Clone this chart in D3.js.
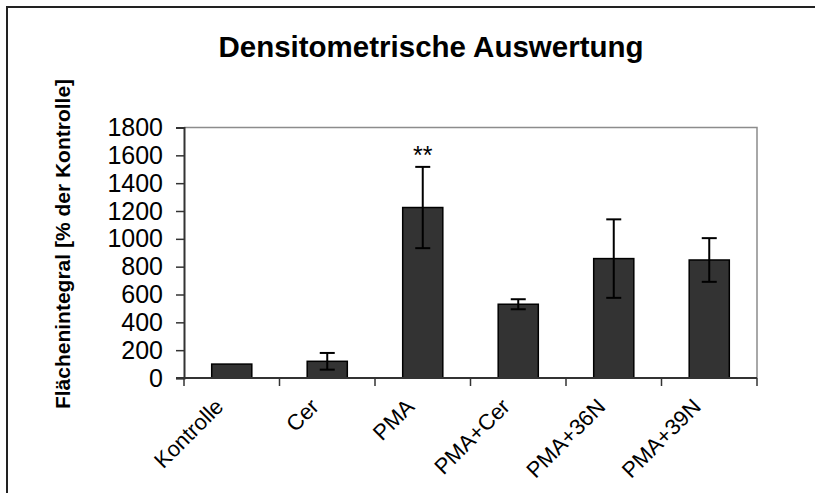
<!DOCTYPE html>
<html><head><meta charset="utf-8">
<script src="https://cdn.jsdelivr.net/npm/d3@7"></script>
<style>html,body{margin:0;padding:0;background:#fff;}svg{display:block;font-family:"Liberation Sans",Arial,sans-serif;}</style>
</head><body>
<svg id="chart" width="815" height="493"></svg>
<script>
const categories = ["Kontrolle", "Cer", "PMA", "PMA+Cer", "PMA+36N", "PMA+39N"];
const means = [100, 120, 1225, 530, 858, 848];
const errors = [0, 60, 292, 36, 282, 157];
const yTicks = [0, 200, 400, 600, 800, 1000, 1200, 1400, 1600, 1800];
const significance = ["", "", "**", "", "", ""];
const titleText = "Densitometrische Auswertung";
const yTitle = "Flächenintegral [% der Kontrolle]";

const svg = d3.select("#chart");
const L = 184, R = 757, T = 127.5, B = 378;

// outer frame (clipped at right/bottom)
svg.append("rect").attr("x", 7).attr("y", 7).attr("width", 900).attr("height", 600)
  .attr("fill", "none").attr("stroke", "#222").attr("stroke-width", 2);

const x = d3.scaleBand().domain(categories).range([L, R]).paddingInner(0.58).paddingOuter(0.29);
const y = d3.scaleLinear().domain([0, 1800]).range([B, T]);

// plot border top & right (gray)
svg.append("path").attr("d", `M${L},${T}H${R}V${B}`).attr("fill", "none")
  .attr("stroke", "#8c8c8c").attr("stroke-width", 1.5);

// bars
svg.append("g").selectAll("rect").data(categories).join("rect")
  .attr("x", d => x(d)).attr("width", x.bandwidth())
  .attr("y", (d, i) => y(means[i])).attr("height", (d, i) => y(0) - y(means[i]))
  .attr("fill", "#333333").attr("stroke", "#000").attr("stroke-width", 1.5);

// error bars
const eg = svg.append("g").attr("stroke", "#000").attr("stroke-width", 2);
categories.forEach((c, i) => {
  if (!errors[i]) return;
  const cx = x(c) + x.bandwidth() / 2;
  const y1 = y(means[i] + errors[i]), y2 = y(means[i] - errors[i]);
  eg.append("line").attr("x1", cx).attr("x2", cx).attr("y1", y1).attr("y2", y2);
  eg.append("line").attr("x1", cx - 7.5).attr("x2", cx + 7.5).attr("y1", y1).attr("y2", y1);
  eg.append("line").attr("x1", cx - 7.5).attr("x2", cx + 7.5).attr("y1", y2).attr("y2", y2);
});

// significance
svg.append("g").selectAll("text").data(categories).join("text")
  .attr("x", d => x(d) + x.bandwidth() / 2).attr("y", (d, i) => y(means[i] + errors[i]) - 3)
  .attr("text-anchor", "middle").attr("font-size", 25).attr("fill", "#000")
  .text((d, i) => significance[i]);

// y axis
const yAxis = d3.axisLeft(y).tickValues(yTicks).tickSize(8).tickPadding(13).tickFormat(d3.format("d"));
const yg = svg.append("g").attr("transform", `translate(${L},0)`).call(yAxis);
yg.select(".domain").attr("stroke", "#333").attr("stroke-width", 2);
yg.selectAll(".tick line").attr("stroke", "#333").attr("stroke-width", 1.5);
yg.selectAll(".tick text").attr("font-size", 25).attr("fill", "#000")
  .attr("font-family", "Liberation Sans, Arial, sans-serif");

// x axis
const boundaries = categories.map(c => x(c) - x.step() * x.paddingInner() / 2).concat([R]);
const xg = svg.append("g");
xg.append("line").attr("x1", L - 8).attr("x2", R).attr("y1", B).attr("y2", B)
  .attr("stroke", "#333").attr("stroke-width", 2);
xg.selectAll("line.tk").data(boundaries).join("line").attr("class", "tk")
  .attr("x1", d => d).attr("x2", d => d).attr("y1", B).attr("y2", B + 8)
  .attr("stroke", "#333").attr("stroke-width", 1.5);
xg.selectAll("text").data(categories).join("text")
  .attr("transform", d => `translate(${x(d) + x.bandwidth() / 2 - 7},${B + 30}) rotate(-45)`)
  .attr("text-anchor", "end").attr("font-size", 22).attr("fill", "#000")
  .text(d => d);

// title
svg.append("text").attr("x", 431).attr("y", 57).attr("text-anchor", "middle")
  .attr("font-size", 29.5).attr("font-weight", "bold").attr("fill", "#000").text(titleText);

// y title
svg.append("text").attr("transform", `translate(70,244) rotate(-90)`).attr("text-anchor", "middle")
  .attr("font-size", 21).attr("font-weight", "bold").attr("fill", "#000").text(yTitle);
</script>
</body></html>
